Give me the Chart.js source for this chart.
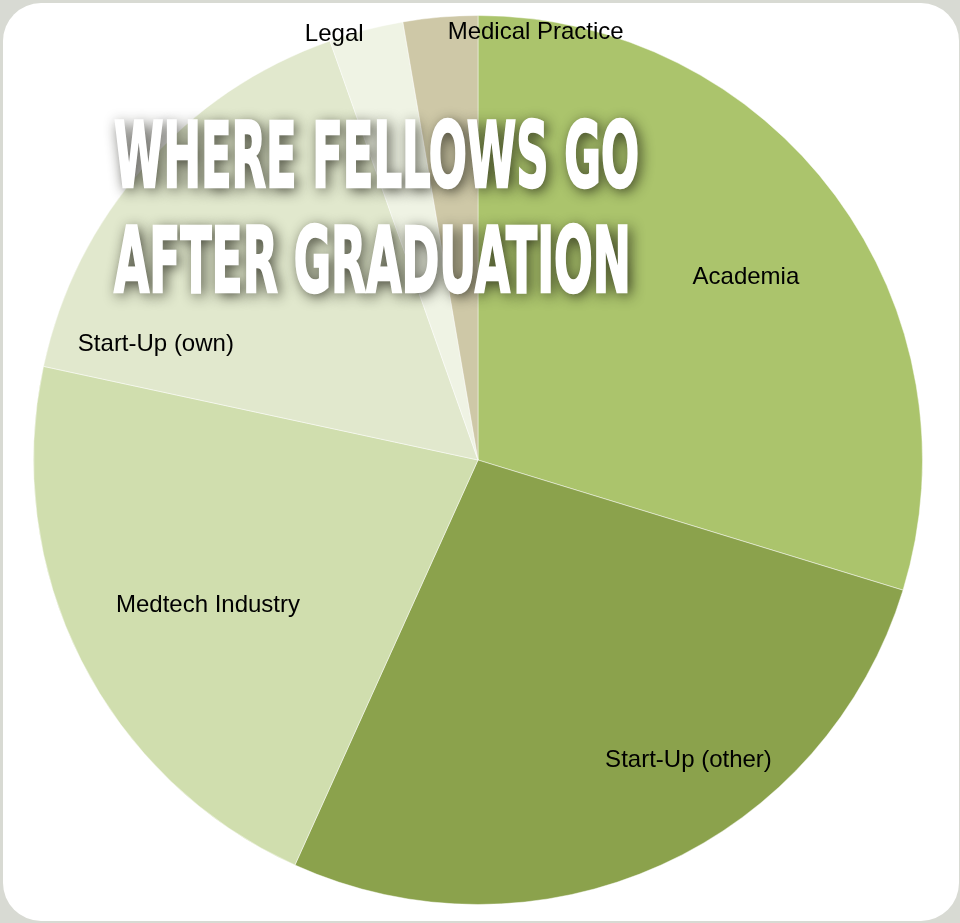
<!DOCTYPE html>
<html>
<head>
<meta charset="utf-8">
<script src="https://cdn.jsdelivr.net/npm/chart.js@4"></script>
<style>
  html, body { margin: 0; padding: 0; background: #d8dad3; width: 960px; height: 923px; overflow: hidden; }
  #frame { position: absolute; left: 3px; top: 3px; width: 956px; height: 918px; background: #ffffff; border-radius: 38px; }
  #c { position: absolute; left: 0; top: 0; }
</style>
</head>
<body>
<div id="frame"></div>
<canvas id="c" width="960" height="923"></canvas>
<script>
const categories = ['Academia', 'Start-Up (other)', 'Medtech Industry', 'Start-Up (own)', 'Legal', 'Medical Practice'];
const fellows = [11, 10, 8, 6, 1, 1];
const sliceColors = ['#abc46c', '#8ba24c', '#d0deae', '#e1e8cd', '#eff3e4', '#cec8a7'];
const titleLines = ['WHERE FELLOWS GO', 'AFTER GRADUATION'];

// label placement: [fraction along slice span, fraction of radius]
const labelPlacement = [[0.52, 0.73], [0.39, 0.825], [0.48, 0.69], [0.13, 0.77], [0.08, 1.01], [1.79, 0.97]];

const labelPlugin = {
  id: 'sliceLabels',
  afterDatasetsDraw(chart) {
    const ctx = chart.ctx;
    const meta = chart.getDatasetMeta(0);
    ctx.save();
    ctx.font = '24px "Liberation Sans", Arial, sans-serif';
    ctx.fillStyle = '#000000';
    ctx.textAlign = 'center';
    ctx.textBaseline = 'middle';
    meta.data.forEach((arc, i) => {
      const p = arc.getProps(['x', 'y', 'startAngle', 'endAngle', 'outerRadius'], true);
      const [t, rf] = labelPlacement[i];
      const a = p.startAngle + (p.endAngle - p.startAngle) * t;
      const r = p.outerRadius * rf;
      ctx.fillText(categories[i], p.x + Math.cos(a) * r, p.y + Math.sin(a) * r);
    });
    ctx.restore();
  }
};

const titlePlugin = {
  id: 'stencilTitle',
  afterDraw(chart) {
    const ctx = chart.ctx;
    const left = 114;
    const tops = [121, 226];
    const widths = [525, 517];
    const size = 90;
    ctx.save();
    ctx.font = 'bold ' + size + 'px "DejaVu Sans Condensed", "DejaVu Sans", sans-serif';
    ctx.textAlign = 'left';
    ctx.textBaseline = 'alphabetic';
    ctx.lineJoin = 'miter';
    titleLines.forEach((line, i) => {
      const w = ctx.measureText(line).width;
      const sx = widths[i] / w;
      const capH = size * 0.729;
      ctx.save();
      ctx.translate(left, tops[i] + capH);
      ctx.scale(sx, 1);
      ctx.shadowColor = 'rgba(20,20,10,0.85)';
      ctx.shadowBlur = 14;
      ctx.shadowOffsetX = 3;
      ctx.shadowOffsetY = 3;
      ctx.fillStyle = '#ffffff';
      ctx.strokeStyle = '#ffffff';
      ctx.lineWidth = 2.5;
      ctx.fillText(line, 0, 0);
      ctx.shadowColor = 'transparent';
      ctx.fillText(line, 0, 0);
      ctx.strokeText(line, 0, 0);
      ctx.restore();
    });
    ctx.restore();
  }
};

new Chart(document.getElementById('c'), {
  type: 'pie',
  data: {
    labels: categories,
    datasets: [{
      data: fellows,
      backgroundColor: sliceColors,
      borderColor: 'rgba(255,255,255,0.45)',
      borderWidth: 1
    }]
  },
  options: {
    responsive: false,
    animation: false,
    layout: { padding: { top: 15, bottom: 18, left: 33, right: 37 } },
    plugins: { legend: { display: false }, tooltip: { enabled: false }, title: { display: false } }
  },
  plugins: [labelPlugin, titlePlugin]
});
</script>
</body>
</html>
